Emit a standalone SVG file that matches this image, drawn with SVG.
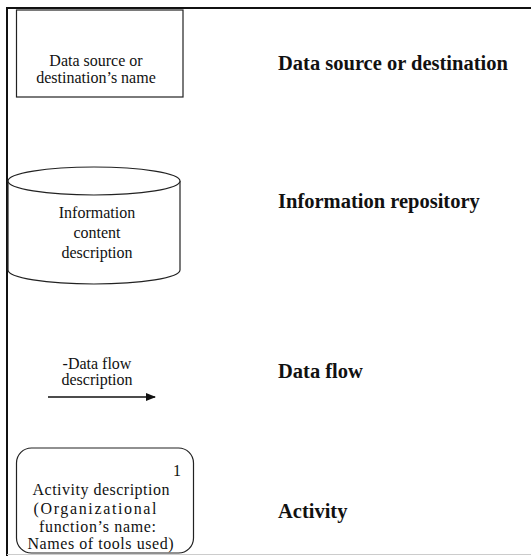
<svg xmlns="http://www.w3.org/2000/svg" width="531" height="556" viewBox="0 0 531 556">
<style>
.t{font-family:"Liberation Serif","Times New Roman",serif;font-size:16px;fill:#111;text-anchor:middle}
.a{font-family:"Liberation Serif","Times New Roman",serif;font-size:16px;fill:#111;text-anchor:middle}
.h{font-family:"Liberation Serif","Times New Roman",serif;font-size:20.5px;font-weight:bold;fill:#111}
.s{fill:#fff;stroke:#222;stroke-width:1.2}
</style>
<defs>
<marker id="ah" markerWidth="10" markerHeight="8" refX="9" refY="4" orient="auto" markerUnits="userSpaceOnUse">
<path d="M0,0 L10,4 L0,8 Z" fill="#111"/>
</marker>
</defs>
<rect width="531" height="556" fill="#fff"/>
<g id="frame">
<line x1="6" y1="8" x2="531" y2="8" stroke="#111" stroke-width="2"/>
<line x1="7" y1="8" x2="7" y2="556" stroke="#111" stroke-width="2"/>
<line x1="7" y1="554.5" x2="531" y2="554.5" stroke="#ccc" stroke-width="1"/>
</g>
<g id="source">
<rect class="s" x="16.5" y="10" width="166.5" height="87"/>
<text class="t" x="96" y="66">Data source or</text>
<text class="t" x="96" y="83">destination’s name</text>
</g>
<g id="repository">
<path class="s" d="M8,181 L8,270 A86,14 0 0 0 180,270 L180,181"/>
<ellipse class="s" cx="94" cy="181" rx="86" ry="14"/>
<text class="t" x="97" y="218">Information</text>
<text class="t" x="97" y="238">content</text>
<text class="t" x="97" y="258">description</text>
</g>
<g id="flow">
<text class="t" x="97" y="369">-Data flow</text>
<text class="t" x="97" y="385">description</text>
</g>
<g id="activity">
<rect class="s" x="16.5" y="448" width="177" height="105" rx="15" ry="15"/>
<text class="a" x="101" y="495" textLength="137" lengthAdjust="spacing">Activity description</text>
<text class="a" x="177" y="476" font-size="14">1</text>
<text class="a" x="95" y="513.5" textLength="123" lengthAdjust="spacing">(Organizational</text>
<text class="a" x="97.5" y="531.5" textLength="117" lengthAdjust="spacing">function’s name:</text>
<text class="a" x="100.5" y="549" textLength="146" lengthAdjust="spacing">Names of tools used)</text>
</g>
<g id="labels">
<text class="h" x="278" y="70">Data source or destination</text>
<text class="h" x="278" y="208">Information repository</text>
<text class="h" x="278" y="378">Data flow</text>
<text class="h" x="278" y="518">Activity</text>
</g>
<g id="connectors">
<line x1="48" y1="397" x2="155" y2="397" stroke="#111" stroke-width="1.5" marker-end="url(#ah)"/>
</g>
</svg>
